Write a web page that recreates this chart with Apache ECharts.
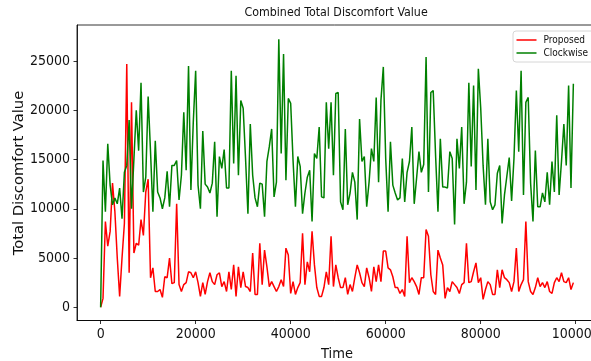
<!DOCTYPE html>
<html><head><meta charset="utf-8">
<script src="https://cdn.jsdelivr.net/npm/echarts@6/dist/echarts.min.js"></script>
<style>html,body{margin:0;padding:0;background:#fff}#c{width:591px;height:361px}</style>
</head><body><div id="c"></div>
<script>
const times = [
0,500,1000,1500,2000,2500,3000,3500,4000,4500,5000,5500,6000,6500,7000,7500,8000,8500,9000,9500,
10000,10500,11000,11500,12000,12500,13000,13500,14000,14500,15000,15500,16000,16500,17000,17500,18000,18500,19000,19500,
20000,20500,21000,21500,22000,22500,23000,23500,24000,24500,25000,25500,26000,26500,27000,27500,28000,28500,29000,29500,
30000,30500,31000,31500,32000,32500,33000,33500,34000,34500,35000,35500,36000,36500,37000,37500,38000,38500,39000,39500,
40000,40500,41000,41500,42000,42500,43000,43500,44000,44500,45000,45500,46000,46500,47000,47500,48000,48500,49000,49500,
50000,50500,51000,51500,52000,52500,53000,53500,54000,54500,55000,55500,56000,56500,57000,57500,58000,58500,59000,59500,
60000,60500,61000,61500,62000,62500,63000,63500,64000,64500,65000,65500,66000,66500,67000,67500,68000,68500,69000,69500,
70000,70500,71000,71500,72000,72500,73000,73500,74000,74500,75000,75500,76000,76500,77000,77500,78000,78500,79000,79500,
80000,80500,81000,81500,82000,82500,83000,83500,84000,84500,85000,85500,86000,86500,87000,87500,88000,88500,89000,89500,
90000,90500,91000,91500,92000,92500,93000,93500,94000,94500,95000,95500,96000,96500,97000,97500,98000,98500,99000,99500
];
const proposed = [
0,900,8700,6200,7700,12600,9700,5000,1100,5000,8500,24700,3500,20800,5500,6500,6300,8900,7300,11700,
13000,3000,4000,1600,1600,1800,1000,3100,3000,5000,2400,2500,10500,2300,1600,2300,2500,3600,3500,3000,
3600,2500,1100,2500,1300,2600,3500,2600,2300,3300,3500,2100,2600,1600,3600,1800,4300,1100,4100,2000,
3600,2100,2000,1600,5500,1300,1300,6500,2300,5800,4100,2100,2600,2100,1600,2100,2800,2100,6000,5300,
1400,2600,1300,2000,2500,7500,2300,4600,3600,7700,4300,2000,1100,1100,2000,3600,2300,7200,2100,4300,
3000,2000,2000,3000,1300,2300,1600,3000,4300,3500,2500,2100,4000,3000,1600,4100,2600,4300,2600,5700,
5700,4000,3800,3100,2000,2000,1400,1800,1100,7200,2500,3000,2600,2100,1300,3000,3000,7900,7200,3300,
1600,1300,5800,5000,4300,900,2000,1600,2600,2300,2000,1400,2300,2500,6500,2500,2600,3600,4500,2500,
3000,800,1800,2600,2300,1300,1300,3800,2000,3800,3000,2800,2500,1600,2600,6000,1600,2300,2800,8700,
2600,1600,1300,2000,3000,2100,2500,2000,2600,1600,1400,2500,3000,2600,3500,2600,2500,3000,1800,2500
];
const clockwise = [
0,14900,9700,16600,12400,10400,11100,10500,12100,9000,13700,14400,19000,10000,15000,20000,15900,22800,11700,13200,
21400,15800,9700,16900,11700,11100,10000,11100,13800,10200,14400,14400,14900,10900,13400,19800,13900,24500,11900,18800,
24000,12400,10000,17900,12500,12200,11600,12600,16800,9200,15300,14100,16000,12100,12100,24000,14600,23500,13400,21000,
20200,15100,9500,18600,13400,11100,10200,12600,12500,9200,14800,16300,18100,11200,12700,27200,15600,25700,12900,21200,
20700,14900,10200,15300,14300,9500,11600,13200,13900,8700,15600,15100,18300,11200,11100,20800,16100,20800,13400,21700,
21800,10700,9900,18100,10400,11600,13700,12700,8900,19100,14800,15300,10200,12700,16100,14800,21300,12700,21000,24400,
15100,9700,16800,12400,11600,10900,11100,15100,10700,13700,14800,18300,10500,13100,15800,13700,14500,25400,11700,21800,
22000,15400,9700,17100,12200,12200,12100,15800,15100,8400,17100,14100,18300,10500,12700,22800,14300,22500,11900,24200,
20200,14400,10400,17100,10700,9900,10400,13600,14400,8500,11400,13300,15200,10800,15100,22000,15800,24000,11400,20800,
21300,12600,8700,15900,10200,10200,11600,10700,13700,10400,14800,11700,19500,11400,14800,18600,14400,22500,12100,22700
];
const xTicks = [0, 20000, 40000, 60000, 80000, 100000];
const yTicks = [0, 5000, 10000, 15000, 20000, 25000];
const seriesNames = ['Proposed', 'Clockwise'];

const COND = "'DejaVu Sans Condensed', 'DejaVu Sans', sans-serif";
const REG = "'DejaVu Sans', sans-serif";

const chart = echarts.init(document.getElementById('c'), null, {renderer: 'canvas'});
const axisCommon = {
  axisLine: {show: true, onZero: false, lineStyle: {color: '#000', width: 0.8}},
  splitLine: {show: false}
};
const plain = v => String(v);
chart.setOption({
  animation: false,
  backgroundColor: '#fff',
  grid: {left: 77, top: 25, width: 520, height: 295.5, containLabel: false, outerBoundsMode: 'none',
         show: true, borderColor: '#000', borderWidth: 0.8, backgroundColor: 'transparent'},
  xAxis: Object.assign({}, axisCommon, {
    type: 'value', min: -4975, max: 104475,
    axisTick: {show: true, inside: false, length: 3.5, lineStyle: {color: '#000', width: 0.8}, customValues: xTicks},
    axisLabel: {customValues: xTicks, formatter: plain, margin: 7, fontSize: 14, fontFamily: COND, color: '#111'},
    name: 'Time', nameLocation: 'middle', nameGap: 20,
    nameTextStyle: {fontSize: 14.5, fontFamily: COND, color: '#111'}
  }),
  yAxis: Object.assign({}, axisCommon, {
    type: 'value', min: -1345, max: 28655,
    axisTick: {show: true, inside: false, length: 3.5, lineStyle: {color: '#000', width: 0.8}, customValues: yTicks},
    axisLabel: {customValues: yTicks, formatter: plain, margin: 7, fontSize: 14, fontFamily: COND, color: '#111'}
  }),
  legend: {
    orient: 'vertical', left: 513, top: 31,
    data: seriesNames,
    icon: 'rect', itemWidth: 20, itemHeight: 1.5, itemGap: 3,
    padding: [4, 12, 4, 3.5],
    textStyle: {fontSize: 10, fontFamily: COND, color: '#111', padding: [0, 0, 0, 2]},
    borderColor: '#d6d6d6', borderWidth: 1, borderRadius: 3, backgroundColor: '#fff'
  },
  graphic: [
    {type: 'text', left: 337.5 - 93, top: 7, style: {text: 'Combined Total Discomfort Value', fontSize: 12.3, fontFamily: COND, fill: '#111'}},
    {type: 'text', x: 19, y: 173, rotation: Math.PI / 2, style: {text: 'Total Discomfort Value', fontSize: 14.7, fontFamily: REG, fill: '#111', align: 'center', verticalAlign: 'middle'}}
  ],
  series: [
    {name: seriesNames[0], type: 'line', showSymbol: false, symbol: 'none', data: times.map((t, i) => [t, proposed[i]]),
     lineStyle: {color: '#ff0000', width: 1.5}, itemStyle: {color: '#ff0000'}, z: 2},
    {name: seriesNames[1], type: 'line', showSymbol: false, symbol: 'none', data: times.map((t, i) => [t, clockwise[i]]),
     lineStyle: {color: '#008000', width: 1.5}, itemStyle: {color: '#008000'}, z: 3}
  ]
});
</script>
</body></html>
